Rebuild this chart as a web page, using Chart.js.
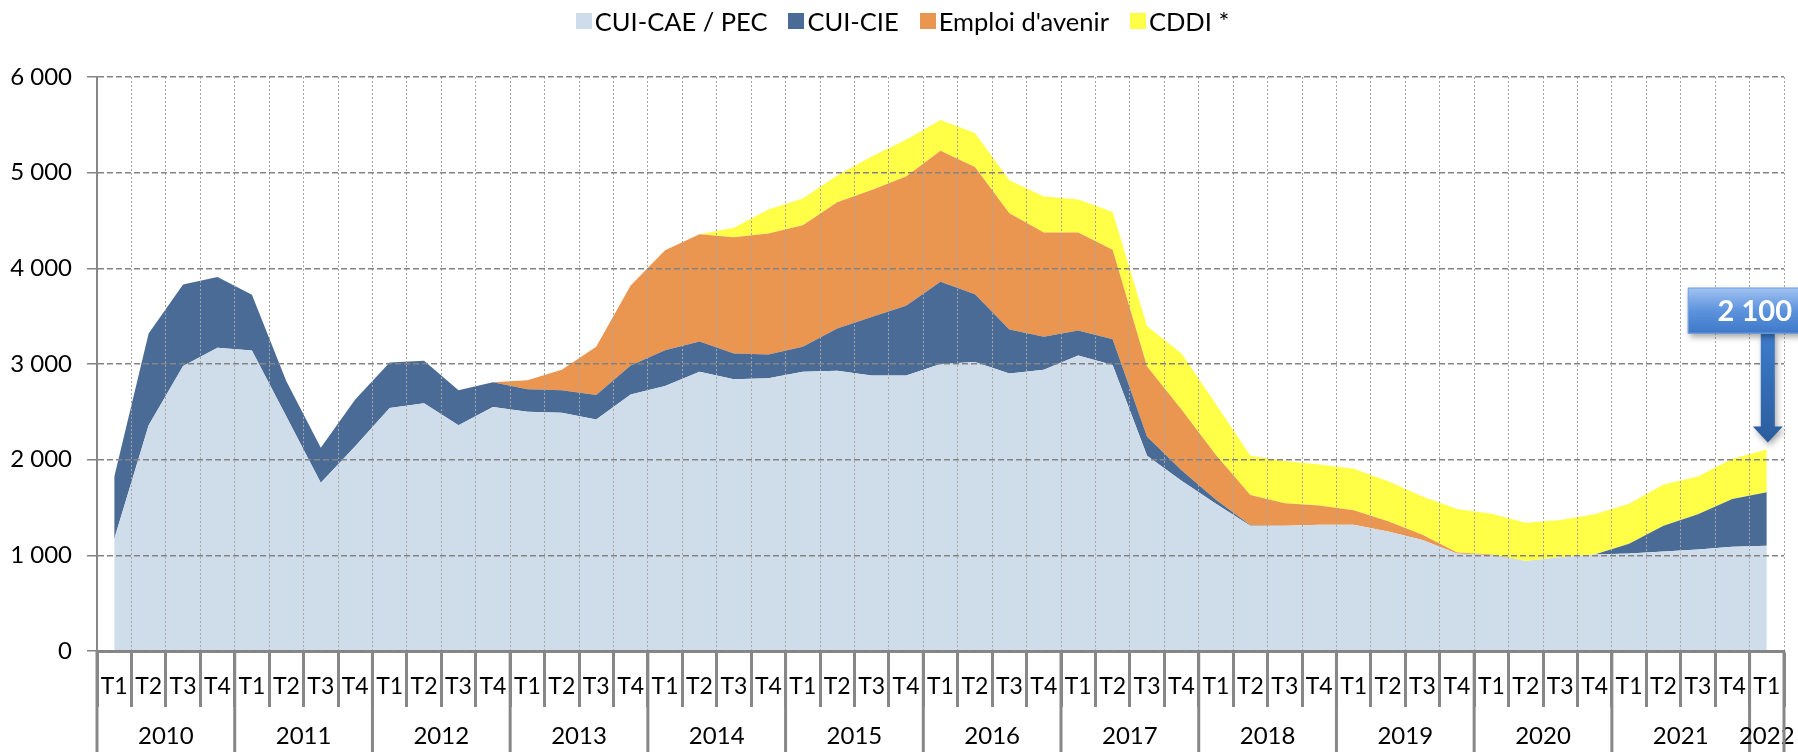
<!DOCTYPE html>
<html lang="fr">
<head>
<meta charset="utf-8">
<script src="https://cdn.jsdelivr.net/npm/chart.js@4.4.1/dist/chart.umd.min.js"></script>
<style>
  html, body { margin: 0; padding: 0; background: #fff; }
  #wrap { position: relative; width: 1798px; height: 752px; }
  #legend {
    position: absolute; top: 6px; left: 14px; width: 100%;
    display: flex; justify-content: center;
    font-family: Lato, "Open Sans", sans-serif; font-size: 25.5px; color: #000;
  }
  #legend .item { display: flex; align-items: center; margin-right: 21px; }
  #legend .box { width: 16px; height: 16px; margin-right: 3px; }
</style>
</head>
<body>
<div id="wrap">
  <canvas id="chart" width="1798" height="752"></canvas>
  <div id="legend"></div>
</div>
<script>
// Quarterly series, 2010 T1 -> 2022 T1
const quarterLabels = [];
const years = ["2010","2011","2012","2013","2014","2015","2016","2017","2018","2019","2020","2021","2022"];
years.forEach((y) => ["T1","T2","T3","T4"].forEach((q) => quarterLabels.push(q)));
quarterLabels.length = 49;

const cuiCae = [1170, 2360, 2980, 3170, 3140, 2450, 1760, 2140, 2540, 2590, 2360, 2550,
  2500, 2490, 2420, 2680, 2770, 2920, 2840, 2850, 2920, 2930, 2880, 2880,
  3000, 3020, 2900, 2940, 3090, 2990, 2040, 1780, 1540, 1310, 1310, 1320,
  1320, 1250, 1160, 1020, 1000, 940, 980, 1010, 1020, 1040, 1060, 1090, 1100];
const cuiCie = [650, 960, 850, 740, 585, 370, 365, 490, 475, 445, 365, 260,
  235, 235, 255, 305, 375, 315, 270, 250, 260, 440, 610, 730,
  860, 710, 460, 345, 260, 270, 200, 110, 40, 5, 0, 0,
  0, 0, 0, 0, 0, 0, 0, 0, 100, 270, 370, 500, 560];
const emploiAvenir = [0, 0, 0, 0, 0, 0, 0, 0, 0, 0, 0, 0,
  95, 215, 505, 835, 1045, 1120, 1215, 1265, 1270, 1320, 1330, 1350,
  1370, 1330, 1215, 1090, 1025, 935, 735, 635, 470, 315, 235, 200,
  150, 105, 55, 10, 10, 0, 0, 0, 0, 0, 0, 0, 0];
const cddi = [0, 0, 0, 0, 0, 0, 0, 0, 0, 0, 0, 0,
  0, 0, 0, 0, 0, 0, 100, 250, 280, 280, 350, 385,
  320, 355, 345, 375, 345, 395, 420, 585, 530, 410, 440, 430,
  435, 420, 400, 455, 425, 400, 390, 420, 420, 430, 395, 420, 445];
const yTicks = [0, 1000, 2000, 3000, 4000, 5000, 6000];
const calloutText = "2 100";

const C = {
  cae: "#cfdcea",
  cie: "#4a6b96",
  avenir: "#ea9650",
  cddi: "#ffff48",
  axis: "#878787",
  grid: "#838383",
  vgrid: "#a5a5a5",
};
const FONT = "Lato, 'Open Sans', sans-serif";

const fmt = (v) => String(v).replace(/\B(?=(\d{3})+(?!\d))/g, " ");

const series = [
  { label: "CUI-CAE / PEC", data: cuiCae, color: C.cae, fill: "origin" },
  { label: "CUI-CIE", data: cuiCie, color: C.cie, fill: "-1" },
  { label: "Emploi d'avenir", data: emploiAvenir, color: C.avenir, fill: "-1" },
  { label: "CDDI *", data: cddi, color: C.cddi, fill: "-1" },
];

// HTML legend
const legendEl = document.getElementById("legend");
series.forEach((s) => {
  const item = document.createElement("div");
  item.className = "item";
  const box = document.createElement("span");
  box.className = "box";
  box.style.background = s.color;
  const txt = document.createElement("span");
  txt.textContent = s.label;
  item.appendChild(box);
  item.appendChild(txt);
  legendEl.appendChild(item);
});

// Year row + callout arrow
const yearAxisPlugin = {
  id: "yearAxis",
  afterDraw(chart) {
    const { ctx } = chart;
    const x = chart.scales.x;
    const y = chart.scales.y;
    const n = quarterLabels.length;
    const step = x.width / n;
    ctx.save();
    ctx.strokeStyle = C.axis;
    ctx.lineWidth = 3;
    ctx.fillStyle = "#000";
    ctx.font = `24px ${FONT}`;
    ctx.textAlign = "center";
    ctx.textBaseline = "middle";
    years.forEach((yr, k) => {
      const first = k * 4;
      const last = Math.min(first + 3, n - 1);
      const left = x.getPixelForValue(first) - step / 2;
      const right = x.getPixelForValue(last) + step / 2;
      ctx.beginPath();
      ctx.moveTo(left, x.top);
      ctx.lineTo(left, chart.height);
      ctx.stroke();
      ctx.fillText(yr, (left + right) / 2, 736);
    });
    const edge = x.getPixelForValue(n - 1) + step / 2;
    ctx.beginPath();
    ctx.moveTo(edge, x.top);
    ctx.lineTo(edge, chart.height);
    ctx.stroke();

    // callout pointing at last total
    const last = n - 1;
    const total = cuiCae[last] + cuiCie[last] + emploiAvenir[last] + cddi[last];
    const px = x.getPixelForValue(last) + 1;
    const tip = y.getPixelForValue(total) - 7;
    const boxTop = tip - 155, boxH = 46, boxL = px - 80;
    ctx.shadowColor = "rgba(0,0,0,0.35)";
    ctx.shadowBlur = 6;
    ctx.shadowOffsetX = 2;
    ctx.shadowOffsetY = 3;
    // shaft + head
    let g = ctx.createLinearGradient(0, boxTop + boxH, 0, tip);
    g.addColorStop(0, "#3d7ccc");
    g.addColorStop(1, "#2b5c9c");
    ctx.fillStyle = g;
    ctx.beginPath();
    ctx.moveTo(px - 7, boxTop + boxH);
    ctx.lineTo(px + 7, boxTop + boxH);
    ctx.lineTo(px + 7, tip - 16);
    ctx.lineTo(px + 15, tip - 16);
    ctx.lineTo(px, tip);
    ctx.lineTo(px - 15, tip - 16);
    ctx.lineTo(px - 7, tip - 16);
    ctx.closePath();
    ctx.fill();
    // box
    g = ctx.createLinearGradient(0, boxTop, 0, boxTop + boxH);
    g.addColorStop(0, "#a2c3f2");
    g.addColorStop(0.5, "#5d93dd");
    g.addColorStop(1, "#3d78c8");
    ctx.fillStyle = g;
    ctx.fillRect(boxL, boxTop, 200, boxH);
    ctx.shadowColor = "transparent";
    ctx.strokeStyle = "#7aa5e2";
    ctx.lineWidth = 1;
    ctx.strokeRect(boxL + 0.5, boxTop + 0.5, 200, boxH - 1);
    ctx.fillStyle = "#fff";
    ctx.font = `bold 29px ${FONT}`;
    ctx.fillText(calloutText, px - 13, boxTop + boxH / 2 + 1);
    ctx.restore();
  },
};

new Chart(document.getElementById("chart"), {
  type: "line",
  data: {
    labels: quarterLabels,
    datasets: series.map((s) => ({
      label: s.label,
      data: s.data,
      backgroundColor: s.color,
      borderColor: s.color,
      borderWidth: 0,
      pointRadius: 0,
      pointHoverRadius: 0,
      tension: 0,
      fill: s.fill,
    })),
  },
  options: {
    responsive: false,
    animation: false,
    events: [],
    layout: { padding: { top: 77, right: 14, bottom: 0, left: 0 } },
    plugins: { legend: { display: false }, tooltip: { enabled: false } },
    scales: {
      x: {
        offset: true,
        grid: {
          offset: true,
          z: 1,
          color: C.vgrid,
          lineWidth: 1,
          tickLength: 56,
          tickWidth: 3,
          tickColor: C.axis,
          tickBorderDash: [],
        },
        border: { color: C.axis, width: 3, dash: [2, 2], z: 1 },
        ticks: {
          autoSkip: false,
          maxRotation: 0,
          padding: -34,
          color: "#000",
          font: { family: FONT, size: 23 },
        },
        afterFit: (scale) => { scale.height = 101; },
      },
      y: {
        stacked: true,
        min: 0,
        max: 6000,
        afterBuildTicks: (scale) => { scale.ticks = yTicks.map((v) => ({ value: v })); },
        grid: {
          z: 1,
          color: C.grid,
          lineWidth: 1.5,
          tickLength: 10,
        },
        border: { color: C.axis, width: 2, dash: [6, 3], z: 1 },
        ticks: {
          padding: 15,
          color: "#000",
          font: { family: FONT, size: 24 },
          callback: (v) => fmt(v),
        },
        afterFit: (scale) => { scale.width = 97; },
      },
    },
  },
  plugins: [yearAxisPlugin],
});
</script>
</body>
</html>
